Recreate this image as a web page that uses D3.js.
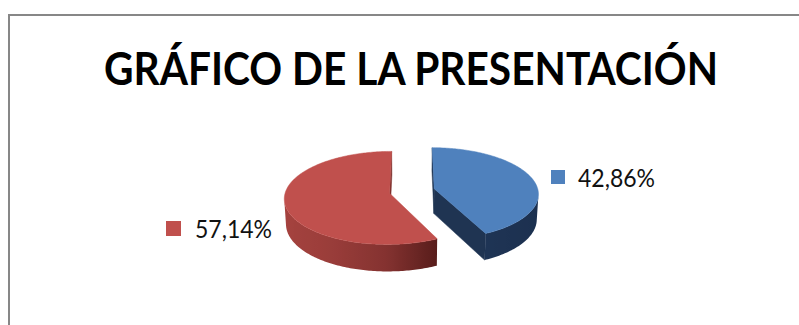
<!DOCTYPE html>
<html>
<head>
<meta charset="utf-8">
<script src="https://cdn.jsdelivr.net/npm/d3@7"></script>
<style>
  html, body { margin: 0; padding: 0; background: #fff; }
  svg { display: block; }
</style>
</head>
<body>
<svg id="chart" width="799" height="325"></svg>
<script>
// Chart data
const title = "GRÁFICO DE LA PRESENTACIÓN";
const categories = ["A", "B"];
const values = [42.86, 57.14];
const valueLabels = ["42,86%", "57,14%"];
const topColors = ["#4F81BD", "#C0504D"];

const svg = d3.select("#chart");
const defs = svg.append("defs");

// Chart area frame
svg.append("rect")
  .attr("x", 9).attr("y", 15)
  .attr("width", 900).attr("height", 400)
  .attr("fill", "#fff")
  .attr("stroke", "#878787")
  .attr("stroke-width", 2);

// Title
svg.append("text")
  .attr("x", 104).attr("y", 85)
  .attr("font-family", "Lato, 'Open Sans', sans-serif")
  .attr("font-weight", 700)
  .attr("font-size", 46)
  .attr("textLength", 614)
  .attr("lengthAdjust", "spacingAndGlyphs")
  .attr("fill", "#000")
  .text(title);

// 3D pie projection
const view = {
  cx: 412, cy: 191,   // screen position of the pie centre (top face)
  k: 104,             // pixels per unit radius
  tilt: 26 * Math.PI / 180,
  dist: 9,            // camera distance, in radii
  depth: 0.27,        // slice thickness, in radii
  explode: 0.22       // explosion offset, in radii
};
const cosT = Math.cos(view.tilt), sinT = Math.sin(view.tilt);
const camera = [0, view.dist * cosT, view.dist * sinT];

function project(x, z, h) {
  const zc = z * cosT + h * sinT;
  const yc = h * cosT - z * sinT;
  const f = 1 / (1 - zc / view.dist);
  return [view.cx + view.k * x * f, view.cy - view.k * yc * f];
}
function visible(normal, p) {
  const v = [camera[0] - p[0], camera[1] - p[1], camera[2] - p[2]];
  return normal[0] * v[0] + normal[1] * v[1] + normal[2] * v[2] > 0;
}

const pie = d3.pie().sort(null).value(d => d)(values);

// Side shading by horizontal component of the face normal
const sideShade = [
  d3.scaleLinear().domain([-1, 0, 1]).range(["#243e63", "#203759", "#1c304f"]).clamp(true),
  d3.scaleLinear().domain([-1, -0.5, 0, 0.45]).range(["#a6433f", "#9a3d3a", "#843230", "#561c1a"]).clamp(true)
];
const cutShade = ["#1f3452", "#7a2c29"];

const slices = pie.map((s, i) => {
  const mid = (s.startAngle + s.endAngle) / 2;
  return { s, i, ox: view.explode * Math.sin(mid), oz: -view.explode * Math.cos(mid) };
}).sort((a, b) => a.oz - b.oz);

const line = d3.line();
const g = svg.append("g");

slices.forEach(({ s, i, ox, oz }) => {
  const a0 = s.startAngle, a1 = s.endAngle;
  const n = Math.max(2, Math.ceil((a1 - a0) / (Math.PI / 180)));
  const angles = d3.range(n + 1).map(j => a0 + (a1 - a0) * j / n);
  const pt = (a, r) => [ox + r * Math.sin(a), oz - r * Math.cos(a)];
  const T = view.depth;
  const sg = g.append("g").attr("class", "slice-" + categories[i]);

  // radial cut faces
  [[a0, [-Math.cos(a0), -Math.sin(a0), 0]], [a1, [Math.cos(a1), Math.sin(a1), 0]]].forEach(([a, nrm]) => {
    const [px, pz] = pt(a, 1);
    const midp = [(ox + px) / 2, (oz + pz) / 2, -T / 2];
    if (!visible(nrm, midp)) return;
    const poly = [project(ox, oz, 0), project(px, pz, 0), project(px, pz, -T), project(ox, oz, -T)];
    sg.append("path").attr("d", line(poly) + "Z")
      .attr("fill", cutShade[i]).attr("stroke", cutShade[i]).attr("stroke-width", 0.5);
  });

  // outer curved side: visible arc as one path with a horizontal gradient
  const vis = angles.filter(a => {
    const [mx, mz] = pt(a, 1);
    return visible([Math.sin(a), -Math.cos(a), 0], [mx, mz, -T / 2]);
  });
  if (vis.length > 1) {
    const topArc = vis.map(a => { const [x, z] = pt(a, 1); return project(x, z, 0); });
    const botArc = vis.map(a => { const [x, z] = pt(a, 1); return project(x, z, -T); }).reverse();
    const xs = topArc.map(p => p[0]);
    const x0 = d3.min(xs), x1 = d3.max(xs);
    const id = "side-" + i;
    const grad = defs.append("linearGradient").attr("id", id)
      .attr("gradientUnits", "userSpaceOnUse")
      .attr("x1", x0).attr("y1", 0).attr("x2", x1).attr("y2", 0);
    const stops = vis.map((a, j) => ({ off: (topArc[j][0] - x0) / (x1 - x0 || 1), c: sideShade[i](Math.sin(a)) }))
      .sort((p, q) => p.off - q.off);
    stops.filter((d, j) => j % 4 === 0 || j === stops.length - 1).forEach(d => {
      grad.append("stop").attr("offset", d.off).attr("stop-color", d.c);
    });
    sg.append("path").attr("d", line(topArc.concat(botArc)) + "Z")
      .attr("fill", `url(#${id})`);
  }

  // top face
  const top = [project(ox, oz, 0)].concat(angles.map(a => { const [x, z] = pt(a, 1); return project(x, z, 0); }));
  sg.append("path").attr("d", line(top) + "Z")
    .attr("fill", topColors[i]).attr("stroke", topColors[i]).attr("stroke-width", 0.5);
});

// Value labels with legend keys
const labelPos = [
  { key: [551, 170, 14], text: [578, 187] },
  { key: [166, 221, 15], text: [195, 238] }
];
valueLabels.forEach((lab, i) => {
  const p = labelPos[i];
  svg.append("rect")
    .attr("x", p.key[0]).attr("y", p.key[1])
    .attr("width", p.key[2]).attr("height", p.key[2])
    .attr("fill", topColors[i]);
  svg.append("text")
    .attr("x", p.text[0]).attr("y", p.text[1])
    .attr("font-family", "Lato, 'Open Sans', sans-serif")
    .attr("font-size", 25)
    .attr("textLength", 77)
    .attr("lengthAdjust", "spacingAndGlyphs")
    .attr("fill", "#111")
    .text(lab);
});
</script>
</body>
</html>
